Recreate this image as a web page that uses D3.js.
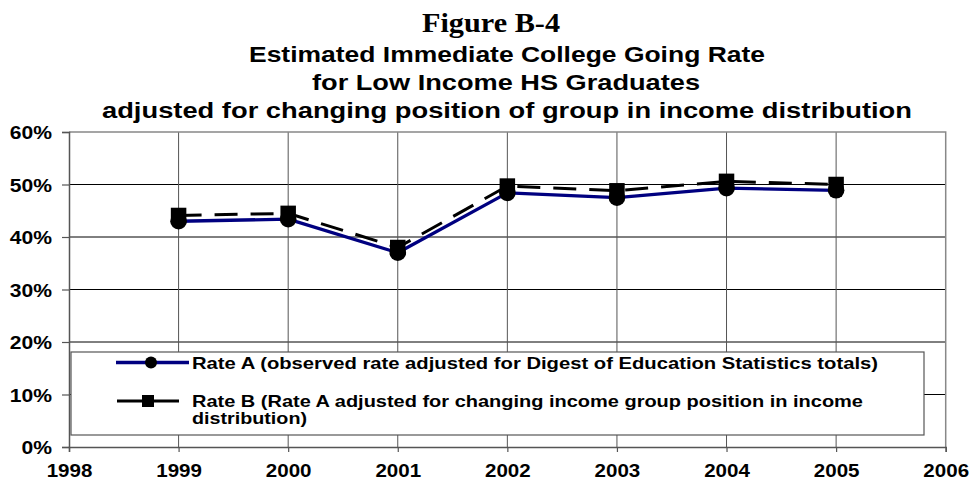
<!DOCTYPE html>
<html>
<head>
<meta charset="utf-8">
<script src="https://cdn.jsdelivr.net/npm/d3@7"></script>
<style>
  html, body { margin: 0; padding: 0; background: #fff; }
  svg { display: block; }
  text { font-family: "Liberation Sans", Arial, sans-serif; font-weight: bold; fill: #000; }
</style>
</head>
<body>
<svg id="chart" width="969" height="484"></svg>
<script>
// Survey years and the two estimated rates (fractions of graduates)
const years = [1999, 2000, 2001, 2002, 2003, 2004, 2005];
const rateA = [0.430, 0.434, 0.370, 0.484, 0.475, 0.493, 0.489];
const rateB = [0.441, 0.445, 0.380, 0.497, 0.488, 0.506, 0.500];
const yTicks = [0, 0.1, 0.2, 0.3, 0.4, 0.5, 0.6];
const xTicks = [1998, 1999, 2000, 2001, 2002, 2003, 2004, 2005, 2006];
const titleLines = [
  "Estimated Immediate College Going Rate",
  "for Low Income HS Graduates",
  "adjusted for changing position of group in income distribution"
];
const legendA = "Rate A (observed rate adjusted for Digest of Education Statistics totals)";
const legendB = ["Rate B (Rate A adjusted for changing income group position in income", "distribution)"];

const svg = d3.select("#chart");
const plotL = 69, plotR = 945.7, plotT = 132, plotB = 447;
const x = d3.scaleLinear().domain([1998, 2006]).range([plotL, plotR]);
const y = d3.scaleLinear().domain([0, 0.6]).range([plotB, plotT]);

// stretch a text element horizontally to a given factor or width
function stretch(sel, factor, width) {
  sel.each(function () {
    const w = width || this.getComputedTextLength() * factor;
    d3.select(this).attr("textLength", w).attr("lengthAdjust", "spacingAndGlyphs");
  });
  return sel;
}

// Titles
svg.append("text").attr("x", 491).attr("y", 31.5).attr("text-anchor", "middle")
  .style("font-family", "'Liberation Serif', 'Times New Roman', serif")
  .style("font-size", "28px").text("Figure B-4")
  .call(stretch, 1, 138);
const titleSpecs = [[507, 61.5, 516], [506, 90, 388], [507, 117.5, 810]];
titleLines.forEach((t, i) => {
  svg.append("text").attr("x", titleSpecs[i][0]).attr("y", titleSpecs[i][1])
    .attr("text-anchor", "middle").style("font-size", "21.5px").text(t)
    .call(stretch, 1, titleSpecs[i][2]);
});

// Gridlines
const grid = svg.append("g");
grid.selectAll("line.h").data(yTicks.filter(v => v > 0 && v < 0.6)).join("line")
  .attr("x1", plotL).attr("x2", plotR).attr("y1", d => y(d)).attr("y2", d => y(d))
  .attr("stroke", "#000").attr("stroke-width", 1);
grid.selectAll("line.v").data(xTicks.filter(v => v > 1998 && v < 2006)).join("line")
  .attr("y1", plotT).attr("y2", plotB).attr("x1", d => x(d)).attr("x2", d => x(d))
  .attr("stroke", "#555").attr("stroke-width", 1);
// plot-area frame (top and right)
svg.append("path").attr("d", `M${plotL},${plotT}H${plotR}V${plotB}`)
  .attr("fill", "none").attr("stroke", "#888").attr("stroke-width", 1.5);

// Axes
const yAxis = svg.append("g").attr("transform", `translate(${plotL},0)`)
  .call(d3.axisLeft(y).tickValues(yTicks).tickFormat(d3.format(".0%")).tickSize(7).tickPadding(10));
const xAxis = svg.append("g").attr("transform", `translate(0,${plotB})`)
  .call(d3.axisBottom(x).tickValues(xTicks).tickFormat(d3.format("d")).tickSize(5).tickPadding(12));
[yAxis, xAxis].forEach(a => {
  a.attr("font-family", null).attr("font-size", null);
  a.select(".domain").attr("stroke", "#555").attr("stroke-width", 1.5);
  a.selectAll(".tick line").attr("stroke", "#555").attr("stroke-width", 1.2);
  a.selectAll("text").style("font-size", "18.5px");
});
yAxis.selectAll(".tick text").attr("dy", "0.36em").call(stretch, 1.14);
xAxis.selectAll(".tick text").attr("dy", "0.71em").call(stretch, 1.11);

// Series lines
const lineGen = vals => d3.line().x((d, i) => x(years[i])).y(d => y(d))(vals);
svg.append("path").attr("d", lineGen(rateA)).attr("fill", "none")
  .attr("stroke", "#000080").attr("stroke-width", 3.3).attr("stroke-linejoin", "round");
svg.append("path").attr("d", lineGen(rateB)).attr("fill", "none")
  .attr("stroke", "#000").attr("stroke-width", 3).attr("stroke-dasharray", "23,13");

// Markers
svg.append("g").selectAll("circle").data(rateA).join("circle")
  .attr("cx", (d, i) => x(years[i])).attr("cy", d => y(d)).attr("r", 8.3).attr("fill", "#000");
const sq = 15.5;
svg.append("g").selectAll("rect").data(rateB).join("rect")
  .attr("x", (d, i) => x(years[i]) - sq / 2).attr("y", d => y(d) - sq / 2)
  .attr("width", sq).attr("height", sq).attr("fill", "#000");

// Legend
const lg = svg.append("g");
lg.append("rect").attr("x", 71).attr("y", 352).attr("width", 853).attr("height", 83)
  .attr("fill", "#fff").attr("stroke", "#555").attr("stroke-width", 1.2);
lg.append("line").attr("x1", 116).attr("x2", 189).attr("y1", 362.5).attr("y2", 362.5)
  .attr("stroke", "#000080").attr("stroke-width", 3.3);
lg.append("circle").attr("cx", 151).attr("cy", 362.5).attr("r", 6).attr("fill", "#000");
lg.append("line").attr("x1", 117).attr("x2", 179).attr("y1", 401).attr("y2", 401)
  .attr("stroke", "#000").attr("stroke-width", 3);
lg.append("rect").attr("x", 142).attr("y", 395).attr("width", 12).attr("height", 12).attr("fill", "#000");
lg.append("text").attr("x", 192).attr("y", 368.5).style("font-size", "16.5px").text(legendA)
  .call(stretch, 1, 686);
lg.append("text").attr("x", 192).attr("y", 407).style("font-size", "16.5px").text(legendB[0])
  .call(stretch, 1, 671);
lg.append("text").attr("x", 192).attr("y", 424).style("font-size", "16.5px").text(legendB[1])
  .call(stretch, 1, 115);
</script>
</body>
</html>
